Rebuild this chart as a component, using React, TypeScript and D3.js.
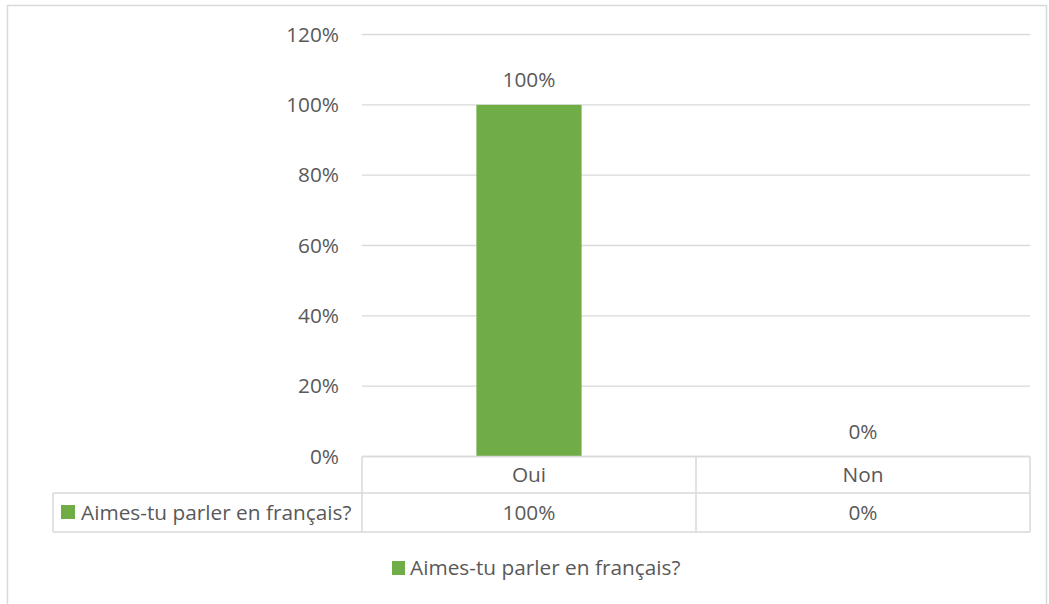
import React from "react";
import * as d3 from "d3";

const categories = ["Oui", "Non"];
const values = [1.0, 0.0];
const seriesName = "Aimes-tu parler en français?";
const yTicks = [0, 0.2, 0.4, 0.6, 0.8, 1.0, 1.2];

const W = 1049;
const H = 604;
const FONT = "'Open Sans', sans-serif";
const TXT = "#595959";
const GRID = "#d9d9d9";
const GREEN = "#70ad47";

export default function App() {
  const plotL = 362, plotR = 1030, plotT = 34.5, plotB = 456.5;
  const y = d3.scaleLinear().domain([0, 1.2]).range([plotB, plotT]);
  const x = d3.scaleBand().domain(categories).range([plotL, plotR]).paddingInner(0).paddingOuter(0);
  const barW = x.bandwidth() * 0.315;
  const fmt = d3.format(".0%");
  const tableL = 53;
  const row1B = 493;
  const row2B = 532;
  const fs = 20.8;

  return (
    <svg width={W} height={H} style={{ position: "absolute", left: 0, top: 0, background: "#fff" }}>
      <rect x={7.5} y={5.5} width={1039} height={610} fill="#fff" stroke={GRID} strokeWidth={1.5} />
      {yTicks.map((t) => (
        <g key={t}>
          <line x1={plotL} x2={plotR} y1={y(t)} y2={y(t)} stroke={GRID} strokeWidth={1.3} />
          <text x={339} y={y(t)} dy="0.35em" textAnchor="end" fontFamily={FONT} fontSize={fs} fill={TXT}>
            {fmt(t)}
          </text>
        </g>
      ))}
      {categories.map((c, i) => {
        const cx = (x(c) as number) + x.bandwidth() / 2;
        return (
          <g key={c}>
            <rect x={cx - barW / 2} y={y(values[i])} width={barW} height={plotB - y(values[i])} fill={GREEN} />
            <text x={cx} y={y(values[i]) - 25} dy="0.35em" textAnchor="middle" fontFamily={FONT} fontSize={fs} fill={TXT}>
              {fmt(values[i])}
            </text>
            <text x={cx} y={(plotB + row1B) / 2} dy="0.35em" textAnchor="middle" fontFamily={FONT} fontSize={fs} fill={TXT}>
              {c}
            </text>
            <text x={cx} y={(row1B + row2B) / 2} dy="0.35em" textAnchor="middle" fontFamily={FONT} fontSize={fs} fill={TXT}>
              {fmt(values[i])}
            </text>
          </g>
        );
      })}
      {/* data table lines */}
      <g stroke={GRID} strokeWidth={1.5} fill="none">
        <line x1={plotL} x2={plotR} y1={plotB} y2={plotB} />
        <line x1={tableL} x2={plotR} y1={row1B} y2={row1B} />
        <line x1={tableL} x2={plotR} y1={row2B} y2={row2B} />
        <line x1={tableL} x2={tableL} y1={row1B} y2={row2B} />
        <line x1={plotL} x2={plotL} y1={plotB} y2={row2B} />
        {categories.map((c) => (
          <line key={c} x1={(x(c) as number) + x.bandwidth()} x2={(x(c) as number) + x.bandwidth()} y1={plotB} y2={row2B} />
        ))}
      </g>
      <rect x={61} y={505} width={14} height={14} fill={GREEN} />
      <text x={81} y={(row1B + row2B) / 2} dy="0.35em" fontFamily={FONT} fontSize={fs} fill={TXT}>
        {seriesName}
      </text>
      {/* legend */}
      <rect x={392} y={561} width={13} height={14} fill={GREEN} />
      <text x={410} y={568} dy="0.35em" fontFamily={FONT} fontSize={fs} fill={TXT}>
        {seriesName}
      </text>
    </svg>
  );
}
